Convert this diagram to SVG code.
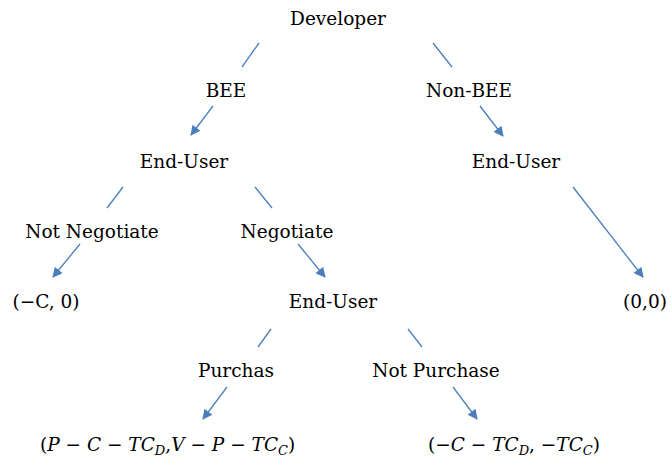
<svg xmlns="http://www.w3.org/2000/svg" width="672" height="464" viewBox="0 0 672 464">
<style>
text{font-family:"DejaVu Serif","Liberation Serif",serif;font-size:18.5px;fill:#000;text-anchor:middle}
.m{text-anchor:start}
.i{font-style:italic}
.s{font-size:13px;font-style:italic}
.e line{stroke:#4a7ebb;stroke-width:1.3;fill:none}
</style>
<defs>
<marker id="a" viewBox="0 0 10 10" refX="9" refY="5" markerWidth="11" markerHeight="10" orient="auto" markerUnits="userSpaceOnUse">
<path d="M0,0L10,5L0,10z" fill="#4a7ebb"/>
</marker>
</defs>
<rect width="672" height="464" fill="#fff"/>
<g id="n-developer"><text x="338" y="25">Developer</text></g>
<g id="n-bee"><text x="226" y="97">BEE</text></g>
<g id="n-nonbee"><text x="469" y="97">Non-BEE</text></g>
<g id="n-enduser1"><text x="184" y="168">End-User</text></g>
<g id="n-enduser2"><text x="516" y="168">End-User</text></g>
<g id="n-notneg"><text x="92" y="238">Not Negotiate</text></g>
<g id="n-neg"><text x="287" y="238">Negotiate</text></g>
<g id="n-payoff1"><text x="46" y="308">(−C, 0)</text></g>
<g id="n-enduser3"><text x="333" y="308">End-User</text></g>
<g id="n-payoff2"><text x="645" y="308">(0,0)</text></g>
<g id="n-purchas"><text x="236" y="377">Purchas</text></g>
<g id="n-notpurchase"><text x="436" y="377">Not Purchase</text></g>
<g id="n-payoff3"><text class="m" x="40" y="451">(<tspan class="i">P</tspan> − <tspan class="i">C</tspan> − <tspan class="i">TC</tspan><tspan class="s" dy="4">D</tspan><tspan dy="-4">,</tspan><tspan class="i">V</tspan> − <tspan class="i">P</tspan> − <tspan class="i">TC</tspan><tspan class="s" dy="4">C</tspan><tspan dy="-4">)</tspan></text></g>
<g id="n-payoff4"><text class="m" x="428" y="451">(−<tspan class="i">C</tspan> − <tspan class="i">TC</tspan><tspan class="s" dy="4">D</tspan><tspan dy="-4">, −</tspan><tspan class="i">TC</tspan><tspan class="s" dy="4">C</tspan><tspan dy="-4">)</tspan></text></g>
<g id="connectors" class="e">
<line x1="259" y1="43" x2="242" y2="67"/>
<line x1="433" y1="43" x2="452" y2="67"/>
<line x1="213" y1="106" x2="191" y2="135" marker-end="url(#a)"/>
<line x1="480" y1="106" x2="503" y2="136" marker-end="url(#a)"/>
<line x1="123" y1="187" x2="107" y2="208"/>
<line x1="255" y1="187" x2="272" y2="208"/>
<line x1="80" y1="244" x2="53" y2="277" marker-end="url(#a)"/>
<line x1="298" y1="244" x2="325" y2="277" marker-end="url(#a)"/>
<line x1="573" y1="187" x2="643" y2="277" marker-end="url(#a)"/>
<line x1="271" y1="329" x2="258" y2="347"/>
<line x1="408" y1="329" x2="422" y2="347"/>
<line x1="227" y1="387" x2="203" y2="419" marker-end="url(#a)"/>
<line x1="453" y1="387" x2="477" y2="419" marker-end="url(#a)"/>
</g>
</svg>
